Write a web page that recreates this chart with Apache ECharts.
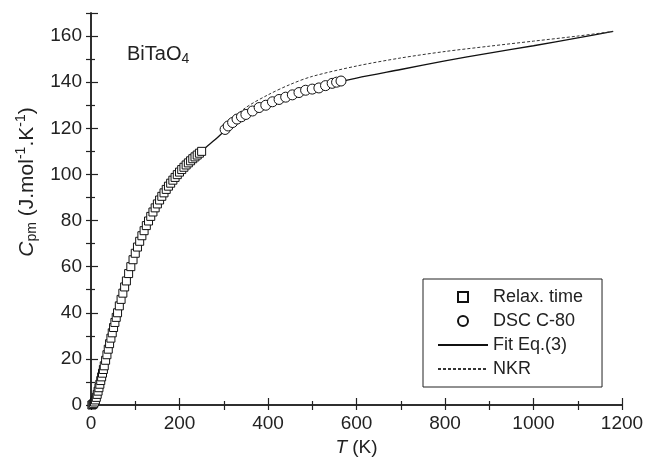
<!DOCTYPE html>
<html>
<head>
<meta charset="utf-8">
<script src="https://cdn.jsdelivr.net/npm/echarts@6/dist/echarts.min.js"></script>
<style>
  html, body { margin: 0; padding: 0; background: #fff; }
  #chart { width: 649px; height: 465px; }
</style>
</head>
<body>
<div id="chart"></div>
<script>
// relaxation time data (squares)
var relaxT = [2,4,6,8,10,12,14,16,18,20,22,24,26,28,30,33,36,39,42,45,48,51,54,57,60,64,68,72,76,80,85,90,95,100,105,110,115,120,125,130,135,140,145,150,155,160,165,170,175,180,185,190,195,200,205,210,215,220,225,230,235,240,245,250];
var relaxC = [0,0.2,0.6,1.3,2.2,3.3,4.6,6,7.5,9,10.6,12.2,13.8,15.4,17,19.4,21.8,24.2,26.6,29,31.3,33.6,35.8,38,40,43,45.8,48.5,51.2,53.8,57,60,63,65.8,68.5,71,73.4,75.6,77.8,79.8,81.8,83.7,85.5,87.2,88.9,90.5,92,93.5,94.9,96.2,97.5,98.7,99.9,101,102.1,103.1,104.1,105,105.9,106.8,107.6,108.4,109.2,110];

// DSC C-80 data (circles)
var dscT = [303,310,320,330,340,350,365,380,395,410,425,440,455,470,485,500,515,530,545,555,565];
var dscC = [119.5,121,122.5,124,125,126,127.5,129,130,131.5,132.5,133.5,134.5,135.5,136.5,137,137.5,138.5,139.5,140,140.5];

// fit Eq.(3)
var fitT = [0,10,20,30,40,50,60,80,100,120,140,160,180,200,220,240,260,280,300,325,350,375,400,450,500,550,600,700,800,900,1000,1100,1180];
var fitC = [0,2.2,9,17,25,32.5,40,53.8,65.8,75.6,83.7,90.5,96.2,101,105,108.4,111.8,115,118.5,122.3,125.5,128,130.2,134,137,139.6,141.8,145.5,149.2,152.6,155.8,159.2,162];

// NKR
var nkrT = [300,350,400,450,500,600,700,800,900,1000,1100,1180];
var nkrC = [121,129,134.5,139,142.5,147,150.5,153.3,155.6,157.8,160,162];

function pairs(xs, ys) {
  return xs.map(function (x, i) { return [x, ys[i]]; });
}

var font = 'Liberation Sans, Arial, Helvetica, sans-serif';
var ink = '#222';

var chart = echarts.init(document.getElementById('chart'));

var axisLine = { show: true, lineStyle: { color: ink, width: 1.5 } };

var option = {
  animation: false,
  backgroundColor: '#fff',
  textStyle: { fontFamily: font, color: ink },
  title: {
    left: 122, top: 37,
    text: '{a|BiTaO}{s|4}',
    textStyle: {
      rich: {
        a: { fontSize: 20, fontWeight: 'normal', fontFamily: font, color: ink },
        s: { fontSize: 14, fontWeight: 'normal', fontFamily: font, color: ink, padding: [10, 0, 0, 0] }
      }
    }
  },
  grid: { left: 91, top: 13, right: 27, bottom: 60 },
  legend: {
    orient: 'vertical',
    left: 423, top: 279,
    padding: [9, 19, 9, 14],
    itemGap: 6,
    itemWidth: 50,
    itemHeight: 10,
    symbolKeepAspect: true,
    borderColor: ink,
    borderWidth: 1,
    textStyle: { fontSize: 18, fontFamily: font, color: ink, lineHeight: 18 },
    data: [
      { name: 'Relax. time', icon: 'path://M0,0h10v10h-10z' },
      { name: 'DSC C-80', icon: 'circle' },
      { name: 'Fit Eq.(3)', itemStyle: { opacity: 0 } },
      { name: 'NKR', itemStyle: { opacity: 0 } }
    ]
  },
  xAxis: [{
    type: 'value', min: 0, max: 1200, interval: 200,
    position: 'bottom',
    name: '{it|T}{n| (K)}',
    nameLocation: 'middle', nameGap: 30,
    nameTextStyle: {
      rich: {
        it: { fontSize: 19, fontStyle: 'italic', fontFamily: font, color: ink },
        n: { fontSize: 19, fontFamily: font, color: ink }
      }
    },
    axisLine: axisLine,
    axisTick: { inside: true, length: 7, lineStyle: { color: ink, width: 1.2 } },
    minorTick: { show: true, splitNumber: 2, length: 4, lineStyle: { color: ink, width: 1.2 } },
    axisLabel: {
      fontSize: 19, margin: 9, color: ink, fontFamily: font,
      formatter: function (v) { return String(v); }
    },
    splitLine: { show: false }
  }, {
    type: 'value', min: 0, max: 1200, interval: 100,
    position: 'top',
    axisLine: axisLine,
    axisTick: { inside: true, length: 5, lineStyle: { color: ink, width: 1.2 } },
    axisLabel: { show: false },
    splitLine: { show: false }
  }],
  yAxis: [{
    type: 'value', min: 0, max: 170, interval: 20,
    position: 'left',
    name: '{it|C}{sub|pm}{n| (J.mol}{sup|-1}{n|.K}{sup|-1}{n|)}',
    nameLocation: 'middle', nameGap: 47, nameRotate: 90,
    nameTextStyle: {
      padding: [0, 0, 0, 54],
      rich: {
        it: { fontSize: 21, fontStyle: 'italic', fontFamily: font, color: ink },
        n: { fontSize: 21, fontFamily: font, color: ink },
        sub: { fontSize: 14, fontFamily: font, color: ink, padding: [11, 0, 0, 0] },
        sup: { fontSize: 14, fontFamily: font, color: ink, padding: [0, 0, 11, 0] }
      }
    },
    axisLine: axisLine,
    axisTick: { inside: true, length: 7, lineStyle: { color: ink, width: 1.2 } },
    minorTick: { show: true, splitNumber: 2, length: 4, lineStyle: { color: ink, width: 1.2 } },
    axisLabel: {
      fontSize: 19, margin: 9, color: ink, fontFamily: font,
      formatter: function (v) { return v > 165 ? '' : v; }
    },
    splitLine: { show: false }
  }, {
    type: 'value', min: 0, max: 170, interval: 10,
    position: 'right',
    axisLine: axisLine,
    axisTick: { inside: true, length: 5, lineStyle: { color: ink, width: 1.2 } },
    axisLabel: { show: false },
    splitLine: { show: false }
  }],
  series: [{
    name: 'Fit Eq.(3)',
    type: 'line',
    data: pairs(fitT, fitC),
    smooth: 0.3,
    symbol: 'none',
    lineStyle: { color: '#111', width: 1.3 },
    itemStyle: { color: '#111' },
    z: 2
  }, {
    name: 'NKR',
    type: 'line',
    data: pairs(nkrT, nkrC),
    smooth: 0.3,
    symbol: 'none',
    lineStyle: { color: '#333', width: 1, type: [3, 2] },
    itemStyle: { color: '#333' },
    z: 2
  }, {
    name: 'Relax. time',
    type: 'scatter',
    data: pairs(relaxT, relaxC),
    symbol: 'rect',
    symbolSize: 8,
    itemStyle: { color: '#fff', borderColor: '#111', borderWidth: 1, opacity: 1 },
    z: 3
  }, {
    name: 'DSC C-80',
    type: 'scatter',
    data: pairs(dscT, dscC),
    symbol: 'circle',
    symbolSize: 10,
    itemStyle: { color: '#fff', borderColor: '#111', borderWidth: 1, opacity: 1 },
    z: 3
  }]
};

chart.setOption(option);
</script>
</body>
</html>
